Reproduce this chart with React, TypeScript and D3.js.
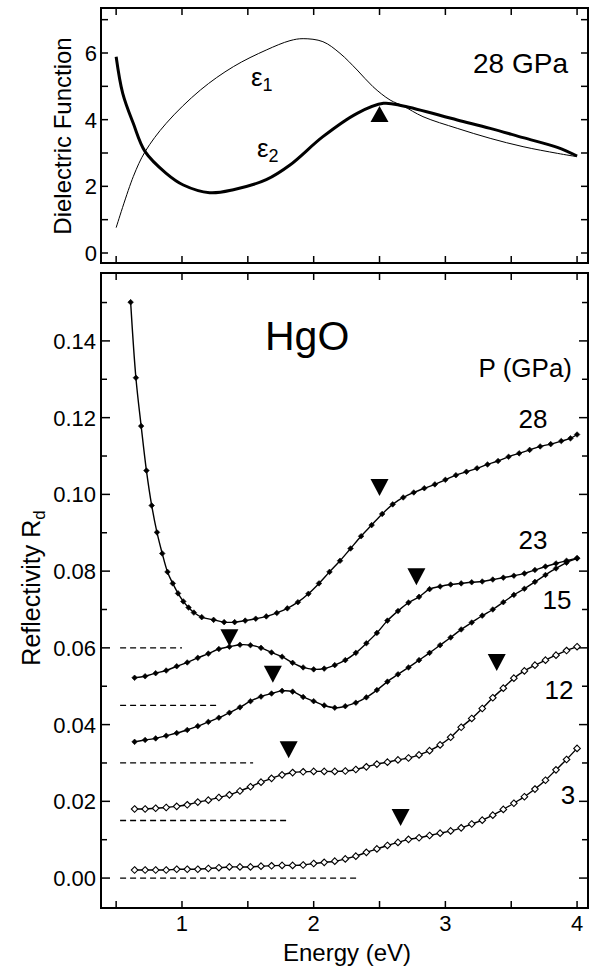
import React from "react";
import * as d3 from "d3";

// ---- top panel: dielectric function at 28 GPa ----
const eps1E = [0.5, 0.63, 0.72, 0.88, 1.14, 1.39, 1.64, 1.82, 1.92, 2.07, 2.2, 2.33, 2.45, 2.58, 2.68, 2.83, 3.09, 3.34, 3.59, 3.85, 4.0];
const eps1V = [0.76, 2.29, 3.04, 3.89, 4.89, 5.59, 6.09, 6.37, 6.43, 6.34, 5.99, 5.49, 4.99, 4.59, 4.41, 4.09, 3.74, 3.44, 3.19, 2.99, 2.89];
const eps2E = [0.5, 0.55, 0.63, 0.72, 0.88, 1.01, 1.21, 1.39, 1.64, 1.82, 2.07, 2.33, 2.53, 2.68, 3.09, 3.34, 3.59, 3.85, 4.0];
const eps2V = [5.89, 4.79, 3.89, 3.04, 2.39, 2.04, 1.81, 1.9, 2.2, 2.64, 3.49, 4.19, 4.49, 4.41, 3.99, 3.74, 3.46, 3.17, 2.91];
const peakE = 2.5;
const peakV = 4.41;

// ---- bottom panel: reflectivity, curves offset by 0.015 ----
const energy28 = [0.61, 0.65, 0.69, 0.73, 0.77, 0.81, 0.85, 0.89, 0.93, 0.97, 1.01, 1.05, 1.09, 1.15, 1.24, 1.32,
  1.40, 1.48, 1.56, 1.64, 1.72, 1.80, 1.88, 1.96, 2.04, 2.12, 2.20, 2.28, 2.36, 2.44, 2.52, 2.60, 2.68, 2.76, 2.84,
  2.92, 3.00, 3.08, 3.16, 3.24, 3.32, 3.40, 3.48, 3.56, 3.64, 3.72, 3.80, 3.88, 3.95, 4.00];
const r28 = [0.1501, 0.1304, 0.1178, 0.1062, 0.0971, 0.0901, 0.0846, 0.0798, 0.0768, 0.0742, 0.0721, 0.0705, 0.0692,
  0.0680, 0.0673, 0.0667, 0.0667, 0.0671, 0.0676, 0.0682, 0.0691, 0.0703, 0.0719, 0.0741, 0.0768, 0.0798,
  0.0827, 0.0859, 0.0891, 0.0920, 0.0949, 0.0974, 0.0992, 0.1005, 0.1016, 0.1026, 0.1038, 0.1050, 0.1059,
  0.1068, 0.1078, 0.1087, 0.1098, 0.1107, 0.1116, 0.1125, 0.1131, 0.1139, 0.1146, 0.1156];

const energy = [0.64, 0.72, 0.80, 0.88, 0.96, 1.04, 1.12, 1.20, 1.28, 1.36, 1.44, 1.52, 1.60, 1.68, 1.76, 1.84,
  1.92, 2.00, 2.08, 2.16, 2.24, 2.32, 2.40, 2.48, 2.56, 2.64, 2.72, 2.80, 2.88, 2.96, 3.04, 3.12, 3.20, 3.28,
  3.36, 3.44, 3.52, 3.60, 3.68, 3.76, 3.84, 3.92, 4.00];
const r23 = [0.0522, 0.0526, 0.0534, 0.0541, 0.0552, 0.0562, 0.0574, 0.0585, 0.0597, 0.0603, 0.0608, 0.0607, 0.0600,
  0.0588, 0.0577, 0.0561, 0.0549, 0.0544, 0.0546, 0.0555, 0.0568, 0.0587, 0.0612, 0.0639, 0.0671, 0.0696, 0.0718,
  0.0733, 0.0753, 0.0760, 0.0765, 0.0768, 0.0771, 0.0773, 0.0778, 0.0783, 0.0788, 0.0794, 0.0803, 0.0812, 0.0820,
  0.0827, 0.0834];
const r15 = [0.0355, 0.0360, 0.0364, 0.0371, 0.0378, 0.0386, 0.0396, 0.0407, 0.0418, 0.0431, 0.0445, 0.0461, 0.0473,
  0.0481, 0.0488, 0.0486, 0.0472, 0.0461, 0.0450, 0.0444, 0.0448, 0.0457, 0.0471, 0.0490, 0.0512, 0.0531, 0.0549,
  0.0568, 0.0587, 0.0607, 0.0627, 0.0648, 0.0666, 0.0684, 0.0700, 0.0719, 0.0738, 0.0754, 0.0772, 0.0790, 0.0807,
  0.0822, 0.0833];
const r12 = [0.0180, 0.0180, 0.0182, 0.0184, 0.0187, 0.0191, 0.0198, 0.0203, 0.0210, 0.0217, 0.0227, 0.0238, 0.0250,
  0.0260, 0.0269, 0.0275, 0.0277, 0.0278, 0.0278, 0.0278, 0.0279, 0.0283, 0.0290, 0.0297, 0.0302, 0.0308, 0.0313,
  0.0321, 0.0332, 0.0347, 0.0367, 0.0393, 0.0416, 0.0442, 0.0470, 0.0495, 0.0521, 0.0540, 0.0555, 0.0568, 0.0581,
  0.0593, 0.0603];
const r3 = [0.0021, 0.0021, 0.0021, 0.0021, 0.0023, 0.0023, 0.0023, 0.0025, 0.0027, 0.0029, 0.0029, 0.0029, 0.0031,
  0.0032, 0.0033, 0.0033, 0.0034, 0.0038, 0.0041, 0.0044, 0.0050, 0.0057, 0.0067, 0.0076, 0.0085, 0.0093, 0.0101,
  0.0105, 0.0111, 0.0117, 0.0123, 0.0131, 0.0141, 0.0151, 0.0164, 0.0179, 0.0195, 0.0212, 0.0232, 0.0255, 0.0282,
  0.0309, 0.0338];

const pressures = ["28", "23", "15", "12", "3"];
const baselineR = [0.06, 0.045, 0.03, 0.015, 0];
const baselineEndE = [1.0, 1.27, 1.54, 1.82, 2.34];
const baselineStartE = 0.53;

// structure markers (tips of the down triangles)
const markE = [2.5, 2.78, 1.36, 1.69, 1.81, 3.39, 2.66];
const markR = [0.0996, 0.0763, 0.0604, 0.0509, 0.0312, 0.054, 0.0136];

const xTicks = [0.5, 1, 1.5, 2, 2.5, 3, 3.5, 4];
const xLabels = [1, 2, 3, 4];
const topYTicks = [0, 1, 2, 3, 4, 5, 6, 7];
const topYLabels = [0, 2, 4, 6];
const botYTicks = [0, 0.01, 0.02, 0.03, 0.04, 0.05, 0.06, 0.07, 0.08, 0.09, 0.1, 0.11, 0.12, 0.13, 0.14, 0.15];
const botYLabels = [0, 0.02, 0.04, 0.06, 0.08, 0.1, 0.12, 0.14];

const font = "'Liberation Sans', Arial, Helvetica, sans-serif";

export default function App() {
  const L = 101, R = 588;
  const topT = 8, topB = 263, botT = 273, botB = 908;

  const x = d3.scaleLinear().domain([0.385, 4.083]).range([L, R]);
  const yTop = d3.scaleLinear().domain([-0.3, 7.35]).range([topB, topT]);
  const yBot = d3.scaleLinear().domain([-0.0078, 0.1577]).range([botB, botT]);

  const topLine = d3.line<[number, number]>()
    .x(d => x(d[0])).y(d => yTop(d[1]))
    .curve(d3.curveCatmullRom.alpha(0.5));
  const botLine = d3.line<[number, number]>()
    .x(d => x(d[0])).y(d => yBot(d[1]))
    .curve(d3.curveCatmullRom.alpha(0.5));

  const eps1 = eps1E.map((e, i) => [e, eps1V[i]] as [number, number]);
  const eps2 = eps2E.map((e, i) => [e, eps2V[i]] as [number, number]);

  const series = [
    { pts: energy28.map((e, i) => [e, r28[i]] as [number, number]), open: false },
    { pts: energy.map((e, i) => [e, r23[i]] as [number, number]), open: false },
    { pts: energy.map((e, i) => [e, r15[i]] as [number, number]), open: false },
    { pts: energy.map((e, i) => [e, r12[i]] as [number, number]), open: true },
    { pts: energy.map((e, i) => [e, r3[i]] as [number, number]), open: true },
  ];

  // label anchors for each pressure curve
  const labelPos = [
    { x: 533, y: 428 },
    { x: 533, y: 549 },
    { x: 557, y: 609 },
    { x: 559, y: 699 },
    { x: 568, y: 804 },
  ];

  const diamond = (cx: number, cy: number, r: number) =>
    `M${cx},${cy - r}L${cx + r},${cy}L${cx},${cy + r}L${cx - r},${cy}Z`;

  const frame = (t: number, b: number, yScale: d3.ScaleLinear<number, number>, yT: number[], major: number[], minLen: number, majLen: number) => (
    <g>
      <rect x={L} y={t} width={R - L} height={b - t} fill="none" stroke="#000" strokeWidth={2} />
      {xTicks.map(v => (
        <g key={"xt" + v}>
          <line x1={x(v)} x2={x(v)} y1={b} y2={b - 7} stroke="#000" strokeWidth={1.5} />
          <line x1={x(v)} x2={x(v)} y1={t} y2={t + 7} stroke="#000" strokeWidth={1.5} />
        </g>
      ))}
      {yT.map(v => {
        const len = major.some(m => Math.abs(m - v) < 1e-9) ? majLen : minLen;
        return (
          <g key={"yt" + v}>
            <line x1={L} x2={L + len} y1={yScale(v)} y2={yScale(v)} stroke="#000" strokeWidth={1.5} />
            <line x1={R} x2={R - len} y1={yScale(v)} y2={yScale(v)} stroke="#000" strokeWidth={1.5} />
          </g>
        );
      })}
    </g>
  );

  return (
    <svg width={597} height={971} style={{ position: "absolute", left: 0, top: 0, background: "#fff" }} fontFamily={font}>
      <rect x={0} y={0} width={597} height={971} fill="#fff" />

      {/* top panel */}
      {frame(topT, topB, yTop, topYTicks, topYLabels, 7, 7)}
      {topYLabels.map(v => (
        <text key={"tl" + v} x={97} y={yTop(v)} dy="0.36em" textAnchor="end" fontSize={22}>{v}</text>
      ))}
      <text transform={`translate(71,136) rotate(-90)`} textAnchor="middle" fontSize={24}>Dielectric Function</text>
      <path d={topLine(eps1) || ""} fill="none" stroke="#000" strokeWidth={1} />
      <path d={topLine(eps2) || ""} fill="none" stroke="#000" strokeWidth={3} />
      <path d={`M${x(peakE) - 9},${yTop(peakV) + 16}L${x(peakE) + 9},${yTop(peakV) + 16}L${x(peakE)},${yTop(peakV)}Z`} fill="#000" />
      <text x={568} y={73} textAnchor="end" fontSize={28}>28 GPa</text>
      <text x={251} y={86} fontSize={26}>ε<tspan fontSize={18} dy={5}>1</tspan></text>
      <text x={257} y={157} fontSize={26}>ε<tspan fontSize={18} dy={5}>2</tspan></text>

      {/* bottom panel */}
      {frame(botT, botB, yBot, botYTicks, botYLabels, 6, 9)}
      {botYLabels.map(v => (
        <text key={"bl" + v} x={96} y={yBot(v)} dy="0.36em" textAnchor="end" fontSize={22}>{v.toFixed(2)}</text>
      ))}
      {xLabels.map(v => (
        <text key={"xl" + v} x={x(v)} y={931} textAnchor="middle" fontSize={22}>{v}</text>
      ))}
      <text x={347} y={961} textAnchor="middle" fontSize={24}>Energy (eV)</text>
      <text transform={`translate(40,588) rotate(-90)`} textAnchor="middle" fontSize={25}>
        Reflectivity R<tspan fontSize={17} dy={5}>d</tspan>
      </text>

      {baselineR.map((b, i) => (
        <line key={"bs" + i} x1={x(baselineStartE)} x2={x(baselineEndE[i])} y1={yBot(b)} y2={yBot(b)}
          stroke="#000" strokeWidth={1.3} strokeDasharray="6,4" />
      ))}

      {series.map((s, i) => (
        <g key={"s" + i}>
          <path d={botLine(s.pts) || ""} fill="none" stroke="#000" strokeWidth={1.4} />
          {s.pts.map((p, j) => (
            <path key={j} d={diamond(x(p[0]), yBot(p[1]), s.open ? 3.3 : 2.8)}
              fill={s.open ? "#fff" : "#000"} stroke="#000" strokeWidth={s.open ? 1.1 : 0.6} />
          ))}
        </g>
      ))}

      {markE.map((e, i) => (
        <path key={"m" + i}
          d={`M${x(e) - 9},${yBot(markR[i]) - 17}L${x(e) + 9},${yBot(markR[i]) - 17}L${x(e)},${yBot(markR[i])}Z`}
          fill="#000" />
      ))}

      <text x={265} y={350} fontSize={41}>HgO</text>
      <text x={572} y={377} textAnchor="end" fontSize={26}>P (GPa)</text>
      {pressures.map((p, i) => (
        <text key={"p" + p} x={labelPos[i].x} y={labelPos[i].y} textAnchor="middle" fontSize={26}>{p}</text>
      ))}
    </svg>
  );
}
